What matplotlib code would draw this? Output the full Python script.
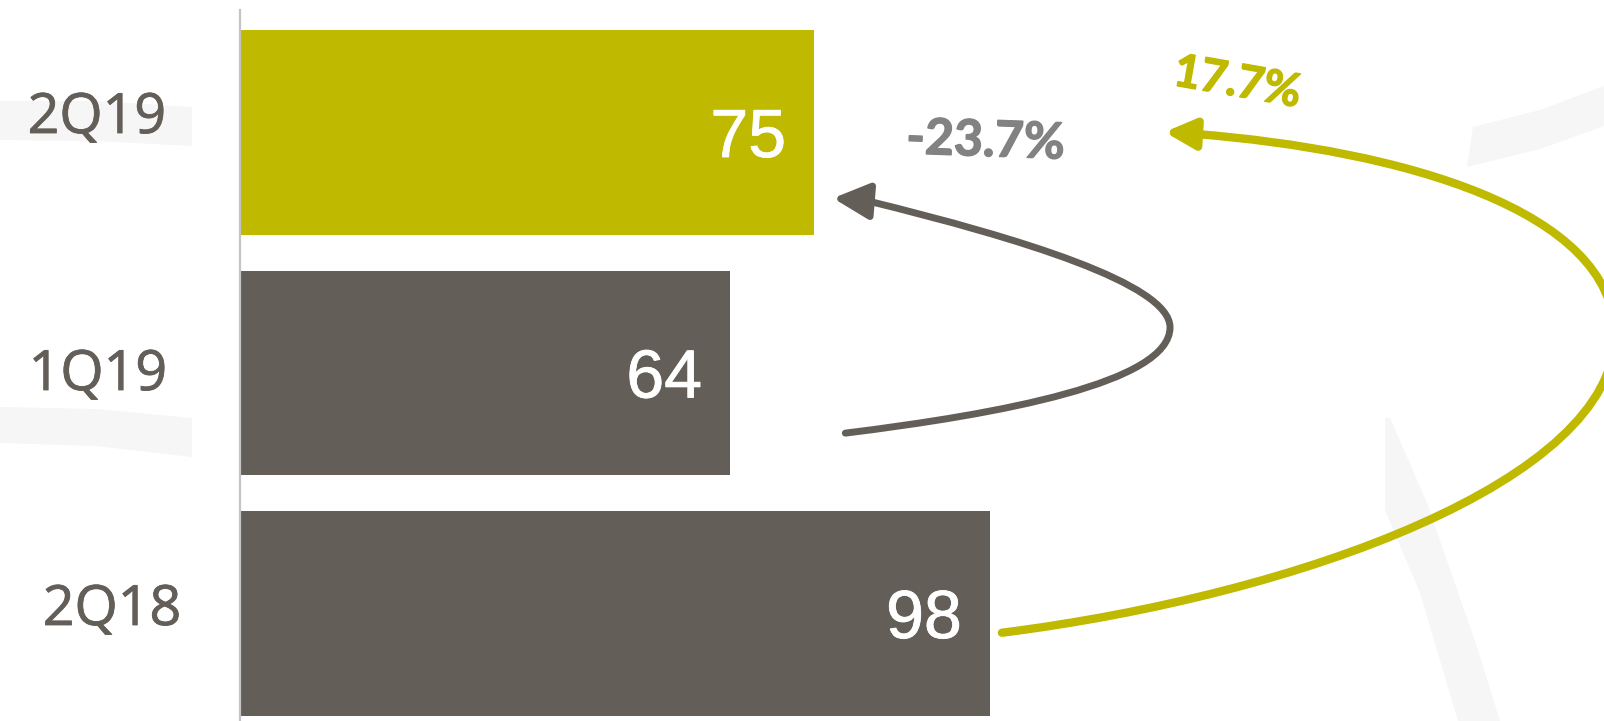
import matplotlib
matplotlib.use("Agg")
import matplotlib.pyplot as plt
import matplotlib.patheffects as pe
from matplotlib.path import Path
from matplotlib.patches import FancyArrowPatch, Polygon
from matplotlib.lines import Line2D

# ---- data -------------------------------------------------------------
categories = ["2Q18", "1Q19", "2Q19"]
values = [98, 64, 75]
change_labels = ["-23.7%", "17.7%"]   # QoQ, YoY

# ---- style ------------------------------------------------------------
OLIVE = "#BFB900"
DARK = "#645E58"
PCT_GRAY = "#828282"
WATERMARK = "#F6F6F6"
bar_colors = [DARK, DARK, OLIVE]

W, H = 1604, 721
PX_PER_UNIT = 7.64
AX_LEFT = 241

fig = plt.figure(figsize=(W / 100, H / 100), dpi=100)
fig.patch.set_facecolor("white")


def fig_pt(x, y):
    """Pixel position (origin top-left) -> figure fraction."""
    return x / W, 1 - y / H


def heavy(color, width):
    """Outline the glyphs in their own colour for a slightly heavier look."""
    return [pe.withStroke(linewidth=width, foreground=color)]


# faint background logo strokes
bands = [
    [(0, 101), (96, 101), (192, 107), (192, 146), (96, 141), (0, 140)],
    [(0, 407), (96, 409), (192, 418), (192, 457), (96, 446), (0, 443)],
    [(1473, 127), (1540, 110), (1604, 86), (1604, 126), (1540, 149), (1467, 167)],
    [(1385, 418), (1390, 418), (1427, 503), (1477, 647), (1500, 721),
     (1458, 721), (1420, 593), (1385, 510)],
]
for b in bands:
    fig.add_artist(Polygon([fig_pt(*p) for p in b], closed=True,
                           transform=fig.transFigure, facecolor=WATERMARK,
                           edgecolor="none", zorder=-5))

ax = fig.add_axes([AX_LEFT / W, 0, 1 - AX_LEFT / W, 1])
ax.set_xlim(0, (W - AX_LEFT) / PX_PER_UNIT)
ax.set_ylim(-0.447, 2.551)
ax.axis("off")

ypos = list(range(len(categories)))
ax.barh(ypos, values, height=0.85, color=bar_colors, zorder=2)

# vertical axis line
fig.add_artist(Line2D([239.5 / W, 239.5 / W], [0, 1 - 10 / H],
                      transform=fig.transFigure, color="#C4C4C4", lw=1.6))

# category labels (right-aligned at the left margin)
label_pos = {"2Q19": (166, 133), "1Q19": (167, 390), "2Q18": (181, 625)}
for cat in categories:
    x, y = label_pos[cat]
    fx, fy = fig_pt(x, y)
    fig.text(fx, fy, cat, ha="right", va="baseline", fontsize=40,
             family="Open Sans", color=DARK, path_effects=heavy(DARK, 0.6))

# value labels inside the bars
for y, v in zip(ypos, values):
    ax.annotate(str(v), xy=(v, y), xytext=(-28 * 0.72, -24.5 * 0.72),
                textcoords="offset points", ha="right", va="baseline",
                fontsize=49, family="Liberation Sans", color="white", zorder=3,
                path_effects=heavy("white", 0.6))

# ---- change arrows -----------------------------------------------------
M, C, L = Path.MOVETO, Path.CURVE4, Path.LINETO

# 1Q19 -> 2Q19 (quarter on quarter)
qoq_verts = [
    (values[1] + 15.1, 1 - 0.25),
    (99.4, 0.83), (121.6, 0.96), (121.6, 1.19),
    (121.6, 1.37), (102.0, 1.56), (82.1, 1.715),
    (values[2] + 2.5, 2 - 0.273),
]
qoq_codes = [M, C, C, C, C, C, C, L]
ax.add_patch(FancyArrowPatch(
    path=Path(qoq_verts, qoq_codes),
    arrowstyle="-|>,head_length=22,head_width=11",
    mutation_scale=1, color=DARK, lw=5.0, zorder=4))

# 2Q18 -> 2Q19 (year on year)
yoy_verts = [
    (values[0] + 1.6, 0 - 0.08),
    (138.6, 0.077), (179.8, 0.555), (179.8, 1.158),
    (179.8, 1.678), (151.7, 1.927), (124.9, 1.994),
    (values[2] + 45.9, 2 + 0.002),
]
yoy_codes = [M, C, C, C, C, C, C, L]
ax.add_patch(FancyArrowPatch(
    path=Path(yoy_verts, yoy_codes),
    arrowstyle="-|>,head_length=18,head_width=9",
    mutation_scale=1, color=OLIVE, lw=6.0, zorder=4))

# change labels
qx, qy = fig_pt(985, 156)
fig.text(qx, qy, change_labels[0], ha="center", va="baseline",
         rotation=-2, rotation_mode="anchor", fontsize=36, fontweight="bold",
         family="Lato", color=PCT_GRAY, path_effects=heavy(PCT_GRAY, 1.0))
yx, yy = fig_pt(1235, 96)
fig.text(yx, yy, change_labels[1], ha="center", va="baseline",
         rotation=-10, rotation_mode="anchor", fontsize=33, fontweight="bold",
         family="Lato", color=OLIVE, path_effects=heavy(OLIVE, 1.0))

fig.savefig("out.png", dpi=100, facecolor="white")
